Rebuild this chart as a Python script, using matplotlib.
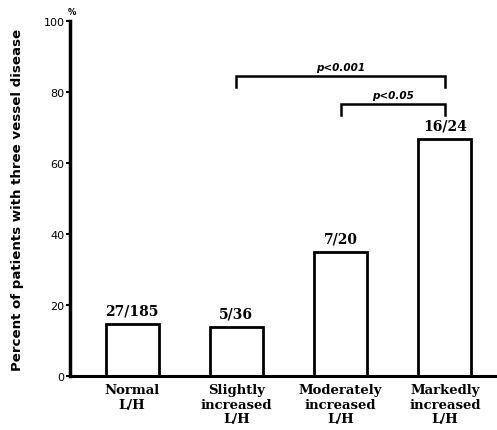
import matplotlib
matplotlib.use("Agg")
import matplotlib.pyplot as plt

categories = ["Normal\nL/H", "Slightly\nincreased\nL/H", "Moderately\nincreased\nL/H", "Markedly\nincreased\nL/H"]
percent = [14.6, 13.9, 35.0, 66.7]
counts = ["27/185", "5/36", "7/20", "16/24"]
# (left bar, right bar, bracket height, p text)
brackets = [(1, 3, 84.5, "p<0.001"), (2, 3, 76.5, "p<0.05")]

fig = plt.figure(figsize=(4.97, 4.31), dpi=100)
ax = fig.add_axes([0.141, 0.125, 0.859, 0.824])

x = list(range(len(categories)))
ax.bar(x, percent, width=0.51, facecolor="white", edgecolor="black", linewidth=2)

for xi, v, c in zip(x, percent, counts):
    ax.text(xi, v + 1.8, c, ha="center", va="bottom", family="DejaVu Serif",
            fontweight="bold", fontsize=10)

for a, b, h, txt in brackets:
    ax.plot([a, a, b, b], [h - 3, h, h, h - 3], color="black", lw=1.8,
            solid_joinstyle="miter")
    ax.text((a + b) / 2, h + 1.2, txt, ha="center", va="bottom", fontsize=7.5,
            fontstyle="italic", fontweight="bold")

ax.set_xlim(-0.595, 3.5)
ax.set_ylim(0, 100)
ax.set_yticks([0, 20, 40, 60, 80, 100])
ax.tick_params(axis="y", direction="out", length=3, width=1.5, labelsize=8, pad=1)
ax.set_xticks(x)
ax.set_xticklabels(categories, family="DejaVu Serif", fontweight="bold",
                   fontsize=9.5, linespacing=1.15, va="top")
ax.tick_params(axis="x", length=0, pad=5)

for s in ["top", "right"]:
    ax.spines[s].set_visible(False)
ax.spines["left"].set_linewidth(2.5)
ax.spines["bottom"].set_linewidth(2.2)

ax.set_ylabel("Percent of patients with three vessel disease", fontweight="bold",
              fontsize=9.6, labelpad=14)
ax.text(0.005, 1.015, "%", transform=ax.transAxes, fontsize=6, fontweight="bold",
        ha="center", va="bottom")

fig.savefig("out.png", dpi=100)
